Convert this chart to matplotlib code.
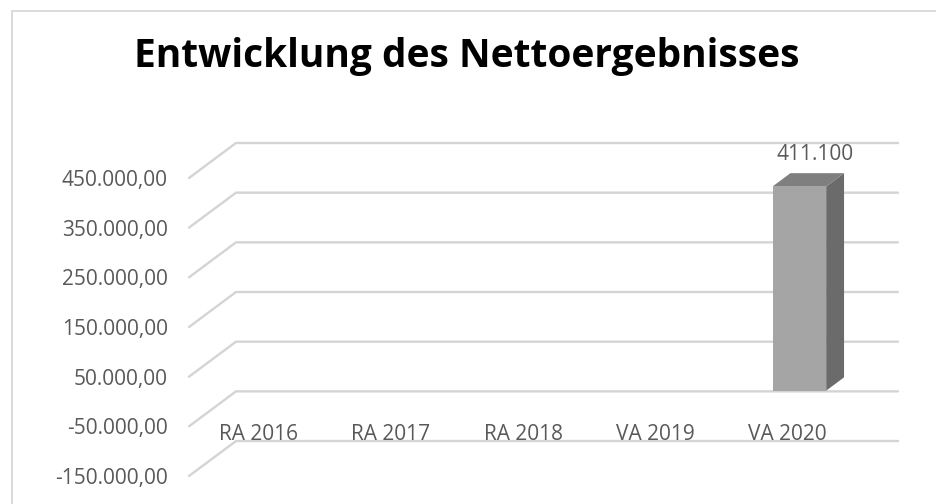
import matplotlib
matplotlib.use('Agg')
import matplotlib.pyplot as plt
from matplotlib.patches import Polygon, Rectangle

# Chart data
title = 'Entwicklung des Nettoergebnisses'
categories = ['RA 2016', 'RA 2017', 'RA 2018', 'VA 2019', 'VA 2020']
values = [None, None, None, None, 411100]
ticks = [-150000, -50000, 50000, 150000, 250000, 350000, 450000]


def de_fmt(v, dec=2):
    # German number format: 1.234,56
    s = f'{v:,.{dec}f}'
    return s.replace(',', 'X').replace('.', ',').replace('X', '.')


plt.rcParams['font.family'] = ['Open Sans', 'DejaVu Sans']

W, H = 936, 504
fig = plt.figure(figsize=(W / 100, H / 100), dpi=100)
ax = fig.add_axes([0, 0, 1, 1])

# layout of the back wall in pixels (image coordinates)
wall_left, wall_right = 236, 898
top_px = 143            # y of the highest gridline
step_px = 49.67         # pixels per tick step
n = len(categories)
px_x = (wall_right - wall_left) / n
tick_step = ticks[1] - ticks[0]
px_y = step_px / tick_step
ymax_px = H - top_px

ax.set_xlim(-wall_left / px_x, (W - wall_left) / px_x)
ax.set_ylim(ticks[-1] - ymax_px / px_y, ticks[-1] + top_px / px_y)
ax.axis('off')

# depth vector (back wall -> front) in data units
DX = -47 / px_x
DY = -35 / px_y


def P(x, v, d):
    return (x + d * DX, v + d * DY)


grid_col = '#d4d4d4'
text_col = '#595959'

# gridlines: back wall line + diagonal on the side wall
for t in ticks:
    pts = [P(n, t, 0), P(0, t, 0), P(0, t, 1)]
    ax.plot([p[0] for p in pts], [p[1] for p in pts], color=grid_col,
            lw=1.7, solid_capstyle='round', solid_joinstyle='round', zorder=1)
    ax.annotate(de_fmt(t), P(0, t, 1), xytext=(-21, 0), textcoords='offset pixels',
                ha='right', va='center_baseline', fontsize=15, color=text_col)

# 3D bars
bw = 0.405
d0, d1 = 0.31, 0.69
for i, v in enumerate(values):
    if v is None:
        continue
    c = i + 0.5
    x0, x1 = c - bw / 2, c + bw / 2
    front = [P(x0, 0, d1), P(x1, 0, d1), P(x1, v, d1), P(x0, v, d1)]
    top = [P(x0, v, d1), P(x1, v, d1), P(x1, v, d0), P(x0, v, d0)]
    side = [P(x1, 0, d1), P(x1, 0, d0), P(x1, v, d0), P(x1, v, d1)]
    ax.add_patch(Polygon(side, closed=True, fc='#6b6b6b', ec='none', zorder=3))
    ax.add_patch(Polygon(top, closed=True, fc='#7f7f7f', ec='none', zorder=3))
    ax.add_patch(Polygon(front, closed=True, fc='#a5a5a5', ec='none', zorder=3))
    ax.annotate(de_fmt(v, 0), P(c, v, d0), xytext=(-2, 21), textcoords='offset pixels',
                ha='center', va='center_baseline', fontsize=15, color=text_col, zorder=4)

# category labels
for i, cat in enumerate(categories):
    ax.annotate(cat, P(i + 0.5, 0, 1), xytext=(3, -30), textcoords='offset pixels',
                ha='center', va='center_baseline', fontsize=15, color=text_col)

# title
fig.text(467 / W, 1 - 66.7 / H, title, ha='center', va='baseline',
         fontsize=28, fontweight='bold', color='black')

# chart border (cut off at right and bottom)
fig.patches.append(Rectangle((12 / W, -0.5), 2, 1.5 - 11 / H, transform=fig.transFigure,
                             fill=False, ec=grid_col, lw=1.2))

fig.savefig('out.png', dpi=100, facecolor='white')
